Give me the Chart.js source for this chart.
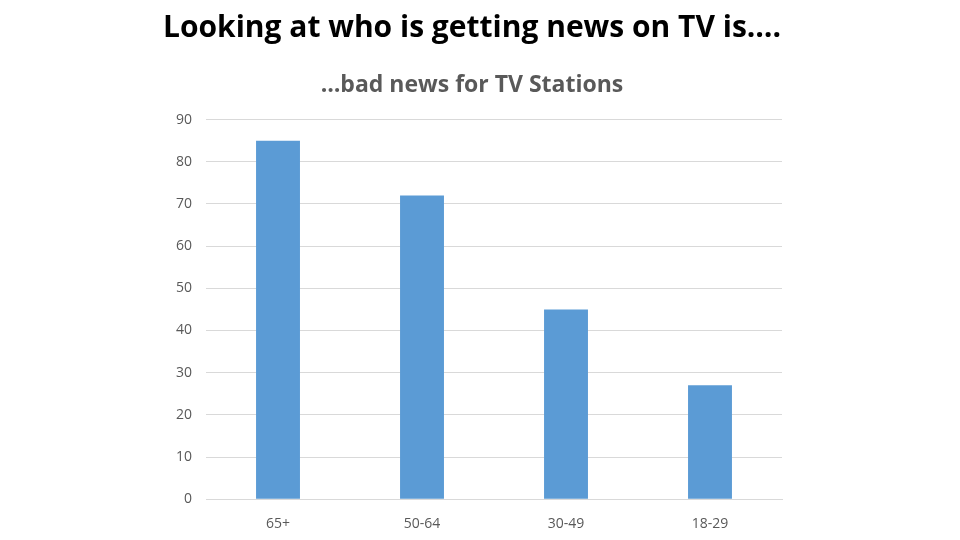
<!DOCTYPE html>
<html><head><meta charset="utf-8">
<script src="https://cdn.jsdelivr.net/npm/chart.js@4/dist/chart.umd.min.js"></script>
<style>html,body{margin:0;padding:0;background:#fff}#w{width:960px;height:540px}</style>
</head><body><div id="w"><canvas id="c" width="960" height="540"></canvas></div>
<script>
const categories = ["65+", "50-64", "30-49", "18-29"];
const values = [85, 72, 45, 27];
const yTicks = [0,10,20,30,40,50,60,70,80,90];
new Chart(document.getElementById('c'), {
  type: 'bar',
  data: { labels: categories, datasets: [{ data: values, backgroundColor: '#5b9bd5', barPercentage: 0.305, categoryPercentage: 1 }] },
  options: {
    responsive: false, animation: false,
    layout: { padding: { left: 162, right: 178, top: 0, bottom: 0 } },
    plugins: {
      legend: { display: false }, tooltip: { enabled: false },
      title: { display: true, text: 'Looking at who is getting news on TV is….', color: '#000', font: { family: 'Open Sans', size: 30, weight: 'bold' }, padding: { top: 10, bottom: 26 } },
      subtitle: { display: true, text: '…bad news for TV Stations', color: '#595959', font: { family: 'Open Sans', size: 23, weight: 'bold' }, padding: { top: 0, bottom: 20 } }
    },
    scales: {
      y: { min: 0, max: 90, afterBuildTicks: a => { a.ticks = yTicks.map(v => ({ value: v })); },
        grid: { color: '#d9d9d9', drawTicks: false }, border: { display: false },
        ticks: { color: '#595959', padding: 14, font: { family: 'Open Sans', size: 14 } } },
      x: { grid: { display: false }, border: { color: '#d9d9d9' },
        ticks: { color: '#595959', padding: 8, font: { family: 'Open Sans', size: 14 } } }
    }
  }
});
</script></body></html>
